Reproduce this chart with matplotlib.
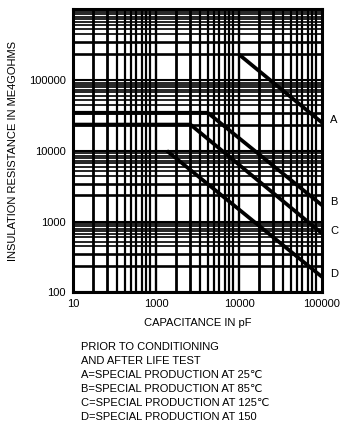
import numpy as np
import matplotlib
matplotlib.use("Agg")
import matplotlib.pyplot as plt

plt.rcParams['font.family'] = ['Liberation Sans', 'DejaVu Sans']

# ---- data ----
cap_A = [10000, 100000]
ir_A = [230000, 25000]
cap_B = [100, 4200, 100000]
ir_B = [34500, 34500, 1700]
cap_C = [100, 2600, 100000]
ir_C = [23500, 23500, 680]
cap_D = [1350, 100000]
ir_D = [10000, 165]

curve_names = ["A", "B", "C", "D"]

x_ticks = [100, 1000, 10000, 100000]
x_ticklabels = ["10", "1000", "10000", "100000"]
y_ticks = [100, 1000, 10000, 100000]
y_ticklabels = ["100", "1000", "10000", "100000"]

# grid line multipliers inside each decade (as drawn on the original sheet)
x_minor_mult = [1.75, 2.6, 3.4, 4.2, 5.0, 5.8, 6.7, 7.6, 8.5]
y_minor_mult = [2.35, 3.45, 4.45, 5.2, 6.0, 6.7, 7.25, 7.9, 8.55, 9.2]

notes = ["PRIOR TO CONDITIONING",
         "AND AFTER LIFE TEST",
         "A=SPECIAL PRODUCTION AT 25℃",
         "B=SPECIAL PRODUCTION AT 85℃",
         "C=SPECIAL PRODUCTION AT 125℃",
         "D=SPECIAL PRODUCTION AT 150"]

# ---- figure ----
fig = plt.figure(figsize=(3.52, 4.36), dpi=100)
ax = fig.add_axes([0.2074, 0.3296, 0.7074, 0.649])
ax.set_xscale("log")
ax.set_yscale("log")
ax.set_xlim(100, 100000)
ax.set_ylim(100, 1000000)

# grid
for dec in [100, 1000, 10000]:
    ax.axvline(dec, color="black", lw=1.7, zorder=1)
    for i, m in enumerate(x_minor_mult):
        ax.axvline(dec * m, color="black", lw=2.0 if i < 2 else 1.6, zorder=1)
for dec in [100, 1000, 10000, 100000]:
    ax.axhline(dec, color="black", lw=1.5, zorder=1)
    for i, m in enumerate(y_minor_mult):
        ax.axhline(dec * m, color="black", lw=1.9 if i < 2 else 1.2, zorder=1)

# curves
for cx, cy, name in zip([cap_A, cap_B, cap_C, cap_D],
                        [ir_A, ir_B, ir_C, ir_D], curve_names):
    ax.plot(cx, cy, color="black", lw=2.7, solid_capstyle="butt", zorder=3)
    ax.annotate(name, (cx[-1], cy[-1]), xytext=(6, 2), textcoords="offset points",
                fontsize=8, va="center", ha="left", annotation_clip=False)

for s in ax.spines.values():
    s.set_linewidth(2.2)

ax.set_xticks(x_ticks)
ax.set_xticklabels(x_ticklabels)
ax.set_yticks(y_ticks)
ax.set_yticklabels(y_ticklabels)
ax.xaxis.set_minor_locator(matplotlib.ticker.NullLocator())
ax.yaxis.set_minor_locator(matplotlib.ticker.NullLocator())
ax.tick_params(length=0, labelsize=8, pad=5)

ax.set_xlabel("CAPACITANCE IN pF", fontsize=8, labelpad=6)
ax.set_ylabel("INSULATION RESISTANCE IN ME4GOHMS", fontsize=8, labelpad=8)

for i, line in enumerate(notes):
    fig.text(81 / 352, 1 - (347 + i * 14) / 436, line, fontsize=8,
             va="center", ha="left")

fig.savefig("out.png", dpi=100)
